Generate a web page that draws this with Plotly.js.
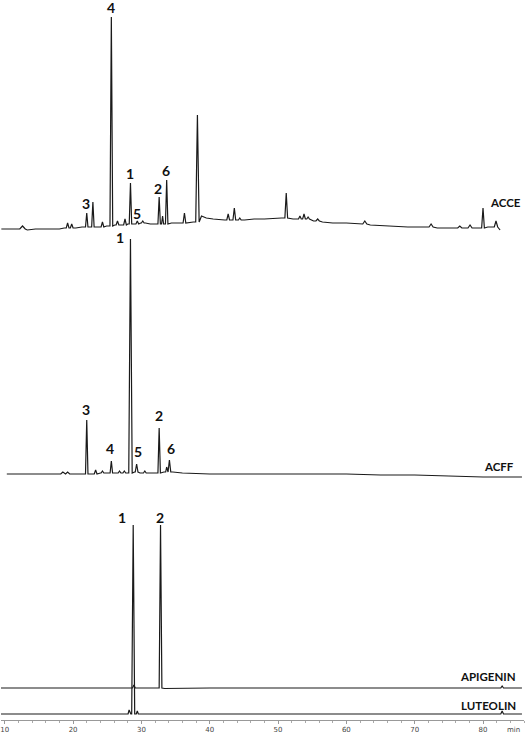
<!DOCTYPE html>
<html>
<head>
<meta charset="utf-8">
<script src="https://cdn.plot.ly/plotly-3.0.1.min.js"></script>
<style>
  html, body { margin: 0; padding: 0; background: #fff; }
  #chart { width: 526px; height: 735px; }
</style>
</head>
<body>
<div id="chart"></div>
<script>
// Chromatogram readings (signal in stacked arbitrary units, time in min)
// baseline knots: [time, level]; peaks: [time, height above baseline, half width]
const acceBase = [
    [9.5, 491], [11, 491], [12, 491], [13.3, 490], [14.5, 491], [15.5, 491], [16.8, 491],
    [18, 491], [18.7, 492], [20.4, 492], [21.3, 493], [23.6, 493], [24.9, 494], [26.1, 495],
    [27.1, 495], [28, 496], [28.9, 496], [29.9, 497], [30.6, 497], [31.3, 496], [32, 496],
    [34.4, 497], [35.5, 497], [37.6, 498], [38.8, 504], [39.5, 502], [40.5, 501], [41.5, 500],
    [42.2, 500], [45.1, 500], [46.5, 501], [48, 501], [50.5, 502], [52.2, 501], [55.2, 499],
    [56.5, 498], [58, 497], [60, 497], [62, 496], [63.5, 495], [66, 494], [69, 493],
    [71.5, 493], [73.3, 492], [75, 492], [77.3, 492], [79.2, 492], [80.7, 493], [81.4, 493],
    [82.5, 490]
];
const accePeaks = [
    [12.6, 3, 0.4], [19.2, 5, 0.2], [19.8, 4, 0.2], [22.0, 14, 0.18], [22.9, 25, 0.18],
    [24.3, 5, 0.2], [25.6, 209, 0.2], [26.5, 4, 0.2], [27.6, 6, 0.2], [28.4, 41, 0.18],
    [29.4, 3, 0.2], [30.2, 2, 0.2], [32.6, 27, 0.18], [33.1, 8, 0.15], [33.7, 44, 0.18],
    [36.3, 10, 0.2], [38.2, 107, 0.25], [42.7, 6, 0.2], [43.6, 12, 0.2], [44.4, 2, 0.2],
    [51.2, 25, 0.2], [53.2, 3, 0.2], [53.8, 5, 0.2], [54.4, 2, 0.2], [55.8, 2, 0.25],
    [62.7, 3, 0.3], [72.4, 3, 0.3], [76.6, 2, 0.3], [78.1, 3, 0.3], [80.0, 20, 0.2],
    [81.9, 6, 0.25]
];

const acffBase = [
    [10.3, 246], [12, 246], [14, 246], [16, 246], [18, 246], [19.7, 246], [21, 246],
    [23, 246], [24, 247], [25, 247], [26.3, 247], [27.2, 247], [27.9, 247], [29, 248],
    [29.8, 247], [31, 247], [32, 247], [33.3, 248], [34.6, 248], [36, 247], [40, 246],
    [45, 246], [50, 246], [55, 246], [60, 246], [65, 245], [70, 245], [75, 244],
    [80, 243], [85.7, 243]
];
const acffPeaks = [
    [18.5, 2, 0.3], [19.2, 2, 0.3], [22.0, 54, 0.18], [23.3, 4, 0.2], [24.3, 2, 0.2],
    [25.6, 12, 0.18], [26.8, 2, 0.2], [27.5, 2, 0.2], [28.4, 234, 0.25], [29.3, 8, 0.2],
    [30.5, 2, 0.2], [32.6, 45, 0.18], [33.7, 5, 0.15], [34.1, 12, 0.2]
];

const apiBase = [
    [9.4, 32], [20, 32], [30, 32], [32.3, 32], [33.4, 31.5], [40, 32], [60, 32],
    [80, 32], [82.4, 32], [83.3, 32], [85.7, 32]
];
const apiPeaks = [[28.9, 3, 0.2], [32.8, 163, 0.2], [82.8, 2, 0.2]];

const lutBase = [
    [9.4, 6], [20, 6], [27.5, 6], [28.45, 6], [29.15, 6], [30, 6], [40, 6], [60, 6],
    [80, 6], [82.3, 6], [83.4, 6], [85.7, 6]
];
const lutPeaks = [[28.2, 4, 0.15], [28.8, 189, 0.22], [29.4, 3, 0.15], [82.8, 3, 0.2]];

// peak numbers: [label, time, level]
const acceLabels = [['4', 25.6, 713], ['3', 21.9, 517], ['1', 28.3, 547], ['5', 29.35, 507], ['2', 32.4, 532], ['6', 33.6, 550]];
const acffLabels = [['1', 26.9, 483], ['3', 21.9, 311], ['4', 25.4, 272], ['5', 29.5, 269], ['2', 32.6, 305], ['6', 34.3, 272]];
const stdLabels = [['1', 27.2, 203], ['2', 32.7, 203]];
// sample names: [name, time (right edge), level]
const sampleNames = [['ACCE', 85.85, 518], ['ACFF', 84.8, 254], ['APIGENIN', 85.1, 44], ['LUTEOLIN', 85.1, 15]];

const tickVals = [10, 20, 30, 40, 50, 60, 70, 80];

// build a trace from baseline knots plus triangular peaks
function buildTrace(base, peaks) {
    const pts = [];
    base.forEach(([t, v]) => {
        const inside = peaks.some(([pt, h, w]) => t >= pt - w && t <= pt + w);
        if (!inside) pts.push([t, v]);
    });
    peaks.forEach(([pt, h, w]) => {
        let foot = base[0][1];
        base.forEach(([t, v]) => { if (t < pt - w) foot = v; });
        pts.push([pt - w, foot], [pt, foot + h], [pt + w, foot]);
    });
    pts.sort((a, b) => a[0] - b[0]);
    return {
        x: pts.map(p => p[0]),
        y: pts.map(p => p[1]),
        type: 'scatter',
        mode: 'lines',
        line: { color: '#1a1a1a', width: 1.2 },
        hoverinfo: 'skip',
        showlegend: false
    };
}

const traces = [
    buildTrace(acceBase, accePeaks),
    buildTrace(acffBase, acffPeaks),
    buildTrace(apiBase, apiPeaks),
    buildTrace(lutBase, lutPeaks)
];

const annotations = [];
acceLabels.concat(acffLabels, stdLabels).forEach(([txt, t, v]) => {
    annotations.push({
        x: t, y: v, xref: 'x', yref: 'y', text: txt, showarrow: false,
        xanchor: 'center', yanchor: 'middle',
        font: { family: 'Lato, sans-serif', size: 14, color: '#111', weight: 'bold' }
    });
});
sampleNames.forEach(([txt, t, v]) => {
    annotations.push({
        x: t, y: v, xref: 'x', yref: 'y', text: '<b>' + txt + '</b>', showarrow: false,
        xanchor: 'right', yanchor: 'middle',
        font: { family: 'Lato, sans-serif', size: 11.5, color: '#111' }
    });
});
annotations.push({
    x: 84.4, y: 0, xref: 'x', yref: 'paper', text: 'min', showarrow: false,
    xanchor: 'center', yanchor: 'top', yshift: -4,
    font: { family: 'DejaVu Sans, sans-serif', size: 7, color: '#444' }
});

const layout = {
    width: 526,
    height: 735,
    margin: { l: 1, r: 2, t: 0, b: 15 },
    paper_bgcolor: '#fff',
    plot_bgcolor: '#fff',
    xaxis: {
        range: [9.45, 86.0],
        showgrid: false,
        zeroline: false,
        showline: true,
        linecolor: '#999',
        linewidth: 1,
        tickmode: 'array',
        tickvals: tickVals,
        ticks: 'outside',
        ticklen: 3,
        tickcolor: '#999',
        tickfont: { family: 'DejaVu Sans, sans-serif', size: 7, color: '#444' },
        minor: { dtick: 2, ticks: 'outside', ticklen: 2, tickcolor: '#aaa' },
        automargin: false,
        fixedrange: true
    },
    yaxis: {
        range: [0, 720],
        visible: false,
        fixedrange: true
    },
    annotations: annotations
};

Plotly.newPlot('chart', traces, layout, { displayModeBar: false, staticPlot: true });
</script>
</body>
</html>
